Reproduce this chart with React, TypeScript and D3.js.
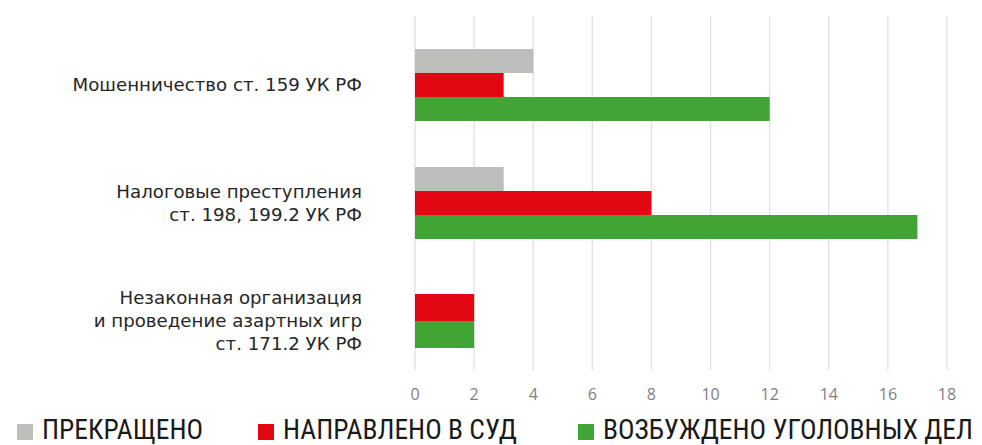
import React, { useEffect } from 'react';
import * as d3 from 'd3';

// categories, top to bottom
const categories = ['fraud', 'tax', 'gambling'];
const categoryLabels = [
  ['Мошенничество ст. 159 УК РФ'],
  ['Налоговые преступления', 'ст. 198, 199.2 УК РФ'],
  ['Незаконная организация', 'и проведение азартных игр', 'ст. 171.2 УК РФ'],
];

const seriesNames = ['ПРЕКРАЩЕНО', 'НАПРАВЛЕНО В СУД', 'ВОЗБУЖДЕНО УГОЛОВНЫХ ДЕЛ'];
const seriesColors = ['#bdbdbb', '#e30613', '#41a535'];

// values per series, in category order
const stopped = [4, 3, 0];
const toCourt = [3, 8, 2];
const opened = [12, 17, 2];
const seriesValues = [stopped, toCourt, opened];

const xTicks = [0, 2, 4, 6, 8, 10, 12, 14, 16, 18];

const W = 982;
const H = 445;

export default function App() {
  useEffect(() => {
    document.body.style.margin = '0';
  }, []);

  const x = d3.scaleLinear().domain([0, 18]).range([415, 947]);
  const y = d3.scaleBand<string>()
    .domain(categories)
    .range([26, 380])
    .paddingInner(0.39)
    .paddingOuter(0.195);

  const gridTop = 16;
  const gridBottom = 370;
  const lineH = 23;

  const legendX = [17, 258, 578];

  return (
    <svg width={W} height={H} style={{ display: 'block' }}>
      <rect width={W} height={H} fill="#fff" />
      {/* gridlines */}
      {xTicks.map((t) => (
        <line key={t} x1={x(t)} x2={x(t)} y1={gridTop} y2={gridBottom}
          stroke="#e2e2e2" strokeWidth={1.4} />
      ))}
      {/* bars: only non-zero series take a slot in the group */}
      {categories.map((c, ci) => {
        const present = seriesValues.map((v, si) => si).filter((si) => seriesValues[si][ci] > 0);
        const cy = (y(c) as number) + y.bandwidth() / 2;
        const span = (y.bandwidth() * (present.length + 1)) / 4;
        const ySub = d3.scaleBand<number>().domain(present).range([cy - span / 2, cy + span / 2]);
        return (
          <g key={c}>
            {present.map((si) => (
              <rect key={si} x={x(0)} y={ySub(si)} width={x(seriesValues[si][ci]) - x(0)}
                height={ySub.bandwidth()} fill={seriesColors[si]} />
            ))}
          </g>
        );
      })}
      {/* category labels */}
      {categories.map((c, ci) => {
        const lines = categoryLabels[ci];
        const cy = (y(c) as number) + y.bandwidth() / 2;
        const y0 = cy - ((lines.length - 1) * lineH) / 2;
        return (
          <text key={c} textAnchor="end" fontFamily="'DejaVu Sans', sans-serif"
            fontSize={18.2} fill="#262626">
            {lines.map((l, li) => (
              <tspan key={li} x={362} y={y0 + li * lineH} dy="0.35em">{l}</tspan>
            ))}
          </text>
        );
      })}
      {/* x tick labels */}
      {xTicks.map((t) => (
        <text key={t} x={x(t)} y={394} dy="0.35em" textAnchor="middle"
          fontFamily="'Open Sans', sans-serif" fontSize={16} fill="#7f7f7f">{t}</text>
      ))}
      {/* legend */}
      {seriesNames.map((n, i) => (
        <g key={n}>
          <rect x={legendX[i]} y={424} width={16} height={16} fill={seriesColors[i]} />
          <text x={legendX[i] + 25} y={439} fontFamily="'Liberation Sans Narrow', 'Roboto Condensed', sans-serif"
            fontSize={27.5} fill="#1a1a1a">{n}</text>
        </g>
      ))}
    </svg>
  );
}
